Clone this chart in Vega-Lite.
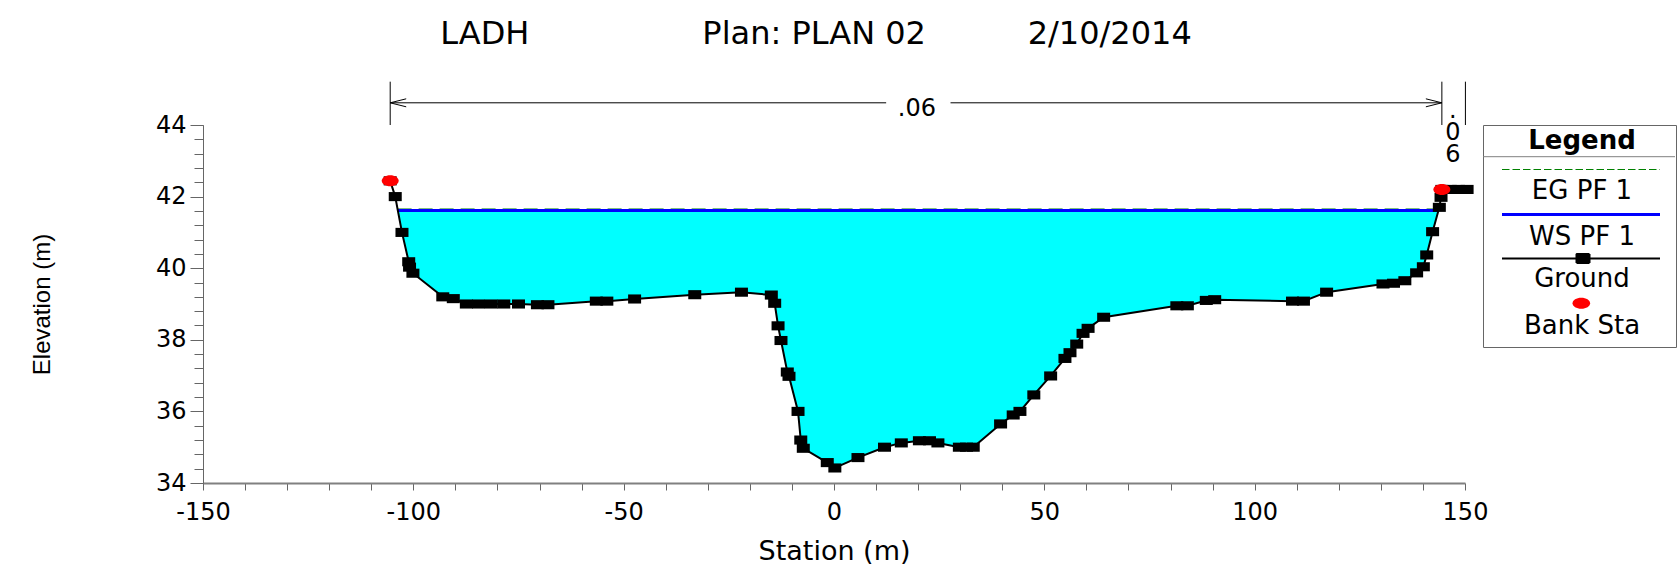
{
  "$schema": "https://vega.github.io/schema/vega-lite/v6.json",
  "width": 1262,
  "height": 358,
  "autosize": {"type": "none"},
  "padding": {"left": 203, "top": 125, "right": 214, "bottom": 84},
  "background": "white",
  "config": {"view": {"stroke": null}, "font": "DejaVu Sans"},
  "title": {
    "text": "LADH\u00a0\u00a0\u00a0\u00a0\u00a0\u00a0\u00a0\u00a0\u00a0\u00a0\u00a0\u00a0\u00a0\u00a0\u00a0\u00a0\u00a0Plan: PLAN 02\u00a0\u00a0\u00a0\u00a0\u00a0\u00a0\u00a0\u00a0\u00a0\u00a02/10/2014",
    "anchor": "middle",
    "frame": "group",
    "font": "DejaVu Sans",
    "fontSize": 32,
    "fontWeight": "normal",
    "color": "black",
    "baseline": "alphabetic",
    "offset": 5,
    "dx": -18
  },
  "resolve": {"axis": {"y": "independent"}},
  "datasets": {
    "ground": [
      {"station": -105.5, "elev": 42.44, "bank": true},
      {"station": -104.3, "elev": 42.0},
      {"station": -103.68, "elev": 41.61, "ws": 41.61, "edge": true},
      {"station": -102.7, "elev": 41.0, "ws": 41.61},
      {"station": -101.1, "elev": 40.18, "ws": 41.61},
      {"station": -100.9, "elev": 40.03, "ws": 41.61},
      {"station": -100.1, "elev": 39.86, "ws": 41.61},
      {"station": -93.0, "elev": 39.2, "ws": 41.61},
      {"station": -90.5, "elev": 39.15, "ws": 41.61},
      {"station": -87.4, "elev": 39.0, "ws": 41.61},
      {"station": -84.5, "elev": 39.0, "ws": 41.61},
      {"station": -81.5, "elev": 39.0, "ws": 41.61},
      {"station": -78.5, "elev": 39.0, "ws": 41.61},
      {"station": -75.0, "elev": 39.0, "ws": 41.61},
      {"station": -70.5, "elev": 38.98, "ws": 41.61},
      {"station": -68.0, "elev": 38.98, "ws": 41.61},
      {"station": -56.5, "elev": 39.08, "ws": 41.61},
      {"station": -54.0, "elev": 39.08, "ws": 41.61},
      {"station": -47.4, "elev": 39.14, "ws": 41.61},
      {"station": -33.1, "elev": 39.26, "ws": 41.61},
      {"station": -22.0, "elev": 39.33, "ws": 41.61},
      {"station": -14.9, "elev": 39.25, "ws": 41.61},
      {"station": -14.1, "elev": 39.02, "ws": 41.61},
      {"station": -13.3, "elev": 38.39, "ws": 41.61},
      {"station": -12.6, "elev": 37.98, "ws": 41.61},
      {"station": -11.1, "elev": 37.1, "ws": 41.61},
      {"station": -10.7, "elev": 36.98, "ws": 41.61},
      {"station": -8.55, "elev": 36.0, "ws": 41.61},
      {"station": -7.9, "elev": 35.2, "ws": 41.61},
      {"station": -7.3, "elev": 34.97, "ws": 41.61},
      {"station": -1.6, "elev": 34.57, "ws": 41.61},
      {"station": 0.2, "elev": 34.42, "ws": 41.61},
      {"station": 5.7, "elev": 34.71, "ws": 41.61},
      {"station": 12.0, "elev": 35.0, "ws": 41.61},
      {"station": 16.0, "elev": 35.12, "ws": 41.61},
      {"station": 20.3, "elev": 35.18, "ws": 41.61},
      {"station": 22.7, "elev": 35.18, "ws": 41.61},
      {"station": 24.7, "elev": 35.12, "ws": 41.61},
      {"station": 29.8, "elev": 35.0, "ws": 41.61},
      {"station": 31.5, "elev": 35.0, "ws": 41.61},
      {"station": 33.1, "elev": 35.0, "ws": 41.61},
      {"station": 39.6, "elev": 35.65, "ws": 41.61},
      {"station": 42.6, "elev": 35.9, "ws": 41.61},
      {"station": 44.2, "elev": 36.0, "ws": 41.61},
      {"station": 47.5, "elev": 36.46, "ws": 41.61},
      {"station": 51.5, "elev": 36.99, "ws": 41.61},
      {"station": 54.9, "elev": 37.48, "ws": 41.61},
      {"station": 56.1, "elev": 37.64, "ws": 41.61},
      {"station": 57.7, "elev": 37.88, "ws": 41.61},
      {"station": 59.2, "elev": 38.18, "ws": 41.61},
      {"station": 60.4, "elev": 38.32, "ws": 41.61},
      {"station": 64.1, "elev": 38.63, "ws": 41.61},
      {"station": 81.5, "elev": 38.95, "ws": 41.61},
      {"station": 84.0, "elev": 38.95, "ws": 41.61},
      {"station": 88.5, "elev": 39.1, "ws": 41.61},
      {"station": 90.5, "elev": 39.12, "ws": 41.61},
      {"station": 109.0, "elev": 39.08, "ws": 41.61},
      {"station": 111.6, "elev": 39.08, "ws": 41.61},
      {"station": 117.1, "elev": 39.33, "ws": 41.61},
      {"station": 130.5, "elev": 39.56, "ws": 41.61},
      {"station": 133.0, "elev": 39.58, "ws": 41.61},
      {"station": 135.7, "elev": 39.65, "ws": 41.61},
      {"station": 138.5, "elev": 39.87, "ws": 41.61},
      {"station": 140.1, "elev": 40.04, "ws": 41.61},
      {"station": 140.9, "elev": 40.37, "ws": 41.61},
      {"station": 142.3, "elev": 41.02, "ws": 41.61},
      {"station": 143.69, "elev": 41.61, "ws": 41.61, "edge": true},
      {"station": 143.9, "elev": 41.7},
      {"station": 144.3, "elev": 41.98},
      {"station": 144.5, "elev": 42.2, "bank": true},
      {"station": 146.5, "elev": 42.2},
      {"station": 148.5, "elev": 42.2},
      {"station": 150.5, "elev": 42.2}
    ],
    "profiles": [
      {"series": "EG PF 1", "station": -103.74, "elev": 41.65},
      {"series": "EG PF 1", "station": 143.8, "elev": 41.65},
      {"series": "WS PF 1", "station": -103.68, "elev": 41.61},
      {"series": "WS PF 1", "station": 143.69, "elev": 41.61}
    ],
    "nBreaks": [
      {"station": -105.5, "low": 44.0, "high": 45.21},
      {"station": 144.5, "low": 44.0, "high": 45.21},
      {"station": 150.1, "low": 44.0, "high": 45.21}
    ],
    "nSpans": [
      {"from": -105.5, "to": 12.4, "level": 44.62},
      {"from": 27.7, "to": 144.5, "level": 44.62}
    ],
    "nHeads": [
      {"station": -105.5, "level": 44.62, "side": "left"},
      {"station": 144.5, "level": 44.62, "side": "right"}
    ],
    "nValues": [
      {"station": 19.7, "level": 44.26, "n": ".06"},
      {"station": 147.1, "level": 44.19, "n": ".\n0\n6"}
    ]
  },
  "layer": [
    {
      "data": {"name": "ground"},
      "transform": [{"filter": {"field": "ws", "valid": true}}],
      "mark": {"type": "area", "color": "#00FFFF", "opacity": 1, "interpolate": "linear"},
      "encoding": {
        "x": {
          "field": "station",
          "type": "quantitative",
          "scale": {"domain": [-150, 150], "nice": false, "zero": false},
          "axis": {
            "title": "Station (m)",
            "values": [-150, -140, -130, -120, -110, -100, -90, -80, -70, -60, -50, -40, -30, -20, -10, 0, 10, 20, 30, 40, 50, 60, 70, 80, 90, 100, 110, 120, 130, 140, 150],
            "labelExpr": "datum.value % 50 === 0 ? '' + datum.value : ''",
            "grid": false,
            "domainColor": "#808080",
            "domainWidth": 2,
            "tickColor": "#666666",
            "tickSize": 7,
            "labelFont": "DejaVu Sans",
            "labelFontSize": 24,
            "labelColor": "black",
            "labelPadding": 10,
            "labelFlush": false,
            "labelOverlap": false,
            "titleFont": "DejaVu Sans",
            "titleFontSize": 27,
            "titleFontWeight": "normal",
            "titleColor": "black",
            "titlePadding": 14
          }
        },
        "y": {
          "field": "elev",
          "type": "quantitative",
          "scale": {"domain": [34, 44], "nice": false, "zero": false},
          "axis": {
            "orient": "left",
            "title": "Elevation (m)",
            "values": [34, 36, 38, 40, 42, 44],
            "labelExpr": "'' + datum.value",
            "grid": false,
            "domainColor": "#666666",
            "tickColor": "#666666",
            "tickSize": 13,
            "labelFont": "DejaVu Sans",
            "labelFontSize": 24,
            "labelColor": "black",
            "labelPadding": 4,
            "labelFlush": false,
            "labelOverlap": false,
            "titleFont": "Liberation Sans",
            "titleFontSize": 24,
            "titleFontWeight": "normal",
            "titleColor": "black",
            "titlePadding": 101
          }
        },
        "y2": {"field": "ws"}
      }
    },
    {
      "data": {"name": "profiles"},
      "mark": {"type": "line"},
      "encoding": {
        "x": {"field": "station", "type": "quantitative"},
        "y": {"field": "elev", "type": "quantitative", "axis": null},
        "color": {
          "field": "series",
          "type": "nominal",
          "scale": {
            "domain": ["Legend", "EG PF 1", "WS PF 1", "Ground", "Bank Sta"],
            "range": ["#808080", "#008000", "#0000FF", "#000000", "#FF0000"]
          },
          "legend": {
            "title": null,
            "orient": "right",
            "offset": 18,
            "padding": 0,
            "rowPadding": 0,
            "gridAlign": "each",
            "strokeColor": "#666666",
            "fillColor": "white",
            "symbolSize": 400,
            "symbolOffset": 83,
            "labelFont": "DejaVu Sans",
            "labelFontSize": 26,
            "labelColor": "black",
            "labelAlign": "center",
            "labelBaseline": "middle",
            "labelOffset": -10,
            "labelLimit": 400,
            "encode": {
              "symbols": {
                "update": {
                  "shape": {"signal": "datum.value === 'Legend' ? 'M-9.6,1.87H9.6M0,2.9' : datum.value === 'EG PF 1' ? 'M-7.7,-1.15H8.1M0,3.15' : datum.value === 'WS PF 1' ? 'M-7.7,-1.15H8.1M0,2.5' : datum.value === 'Ground' ? 'M-7.7,-1.15H8.1M-0.25,-1.6H1.05V-0.7H-0.25ZM0,2.55' : 'M-0.65,-1.17A0.88,0.55,0,1,0,1.11,-1.17A0.88,0.55,0,1,0,-0.65,-1.17ZM0,3.19'"},
                  "fill": {"signal": "datum.value === 'Ground' ? '#000000' : datum.value === 'Bank Sta' ? '#FF0000' : 'transparent'"},
                  "stroke": {"signal": "datum.value === 'Bank Sta' ? 'transparent' : scale('color', datum.value)"},
                  "strokeWidth": {"signal": "datum.value === 'WS PF 1' ? 3 : datum.value === 'Ground' ? 2 : datum.value === 'Bank Sta' ? 0 : 1"},
                  "strokeDash": {"signal": "datum.value === 'EG PF 1' ? [7.5, 3] : [1, 0]"},
                  "strokeJoin": {"value": "bevel"},
                  "size": {"value": 400},
                  "opacity": {"value": 1}
                }
              },
              "labels": {
                "update": {
                  "dy": {"signal": "datum.value === 'Legend' ? 2.8 : datum.value === 'EG PF 1' ? 9.9 : datum.value === 'WS PF 1' ? 11.4 : datum.value === 'Ground' ? 8.7 : 11.2"},
                  "fontWeight": {"signal": "datum.value === 'Legend' ? 'bold' : 'normal'"}
                }
              }
            }
          }
        },
        "strokeDash": {
          "field": "series",
          "type": "nominal",
          "scale": {"domain": ["EG PF 1", "WS PF 1"], "range": [[14, 7], [1, 0]]},
          "legend": null
        },
        "strokeWidth": {
          "field": "series",
          "type": "ordinal",
          "scale": {"domain": ["EG PF 1", "WS PF 1"], "range": [1.2, 3]},
          "legend": null
        }
      }
    },
    {
      "data": {"name": "ground"},
      "mark": {"type": "line", "color": "black", "strokeWidth": 2},
      "encoding": {
        "x": {"field": "station", "type": "quantitative"},
        "y": {
          "field": "elev",
          "type": "quantitative",
          "axis": {
            "orient": "left",
            "title": null,
            "values": [34, 34.4, 34.8, 35.2, 35.6, 36, 36.4, 36.8, 37.2, 37.6, 38, 38.4, 38.8, 39.2, 39.6, 40, 40.4, 40.8, 41.2, 41.6, 42, 42.4, 42.8, 43.2, 43.6, 44],
            "labels": false,
            "domain": false,
            "grid": false,
            "tickColor": "#666666",
            "tickSize": 9
          }
        }
      }
    },
    {
      "data": {"name": "ground"},
      "transform": [{"filter": "!datum.edge"}],
      "mark": {"type": "point", "shape": "M-1,-0.7H1V0.7H-1Z", "size": 169, "filled": true, "color": "black", "opacity": 1, "strokeWidth": 0},
      "encoding": {
        "x": {"field": "station", "type": "quantitative"},
        "y": {"field": "elev", "type": "quantitative", "axis": null}
      }
    },
    {
      "data": {"name": "ground"},
      "transform": [{"filter": "datum.bank === true"}],
      "mark": {"type": "point", "shape": "M-1,0A1,0.65,0,1,0,1,0A1,0.65,0,1,0,-1,0Z", "size": 289, "filled": true, "color": "#FF0000", "opacity": 1, "strokeWidth": 0},
      "encoding": {
        "x": {"field": "station", "type": "quantitative"},
        "y": {"field": "elev", "type": "quantitative", "axis": null}
      }
    },
    {
      "data": {"name": "nBreaks"},
      "mark": {"type": "rule", "color": "black", "strokeWidth": 1},
      "encoding": {
        "x": {"field": "station", "type": "quantitative"},
        "y": {"field": "low", "type": "quantitative", "axis": null},
        "y2": {"field": "high"}
      }
    },
    {
      "data": {"name": "nSpans"},
      "mark": {"type": "rule", "color": "black", "strokeWidth": 1},
      "encoding": {
        "x": {"field": "from", "type": "quantitative"},
        "x2": {"field": "to"},
        "y": {"field": "level", "type": "quantitative", "axis": null}
      }
    },
    {
      "data": {"name": "nHeads"},
      "mark": {"type": "point", "filled": false, "color": "black", "strokeWidth": 1, "opacity": 1, "size": 256},
      "encoding": {
        "x": {"field": "station", "type": "quantitative"},
        "y": {"field": "level", "type": "quantitative", "axis": null},
        "shape": {
          "field": "side",
          "type": "nominal",
          "scale": {"domain": ["left", "right"], "range": ["M2,-0.5L0,0L2,0.5", "M-2,-0.5L0,0L-2,0.5"]},
          "legend": null
        }
      }
    },
    {
      "data": {"name": "nValues"},
      "mark": {"type": "text", "font": "DejaVu Sans", "fontSize": 24, "color": "black", "align": "center", "baseline": "alphabetic", "lineBreak": "\n", "lineHeight": 21.7},
      "encoding": {
        "x": {"field": "station", "type": "quantitative"},
        "y": {"field": "level", "type": "quantitative", "axis": null},
        "text": {"field": "n", "type": "nominal"}
      }
    }
  ]
}
